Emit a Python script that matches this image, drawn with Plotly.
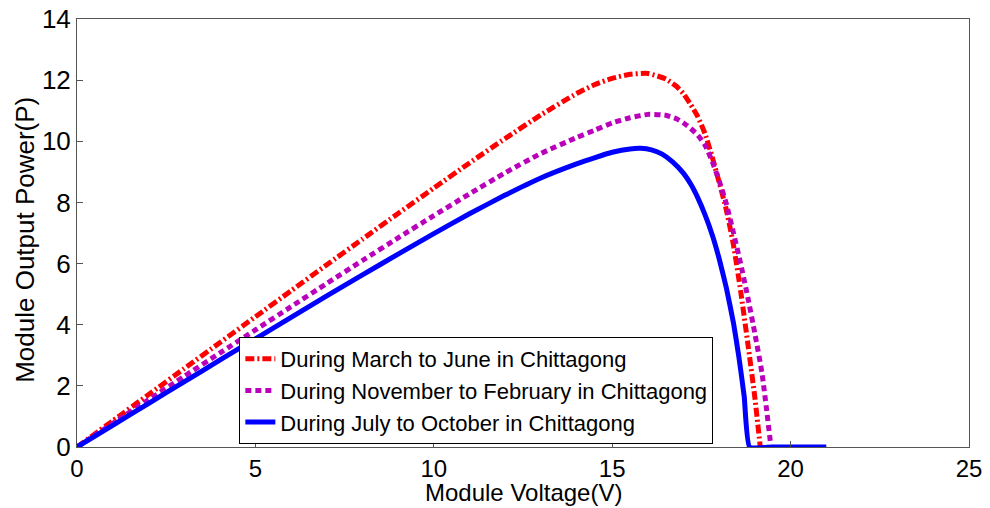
import plotly.graph_objects as go

# Red: During March to June
v_red = [0, 1, 2, 3, 4, 5, 6, 7, 8, 9, 10, 11, 12, 13, 14, 14.5, 15, 15.5, 16, 16.5,
         16.8, 17, 17.2, 17.4, 17.6, 17.8, 18.0, 18.2, 18.4, 18.6, 18.8, 19.0, 19.15]
p_red = [0, 0.855, 1.71, 2.56, 3.41, 4.26, 5.11, 5.96, 6.80, 7.64, 8.47, 9.29, 10.09, 10.86,
         11.56, 11.85, 12.06, 12.19, 12.22, 12.04, 11.8, 11.55, 11.2, 10.8, 10.25, 9.5,
         8.65, 7.75, 6.6, 5.1, 3.4, 1.6, 0]

# Magenta: During November to February
v_mag = [0, 1, 2, 3, 4, 5, 6, 7, 8, 9, 10, 11, 12, 13, 14, 14.5, 15, 15.5, 16, 16.5,
         16.8, 17, 17.2, 17.4, 17.6, 17.8, 18.0, 18.2, 18.4, 18.6, 18.8, 19.0, 19.2, 19.45]
p_mag = [0, 0.77, 1.54, 2.31, 3.07, 3.83, 4.59, 5.35, 6.10, 6.84, 7.57, 8.28, 8.97, 9.60,
         10.12, 10.36, 10.60, 10.77, 10.88, 10.85, 10.74, 10.6, 10.42, 10.2, 9.88, 9.35,
         8.7, 7.95, 7.0, 6.0, 4.9, 3.7, 2.4, 0]

# Blue: During July to October
v_blue = [0, 1, 2, 3, 4, 5, 6, 7, 8, 9, 10, 11, 12, 13, 14, 14.5, 15, 15.5, 15.8, 16.1,
          16.4, 16.7, 17.0, 17.2, 17.4, 17.6, 17.8, 18.0, 18.2, 18.4, 18.55, 18.7, 18.85,
          19.5, 21]
p_blue = [0, 0.71, 1.42, 2.13, 2.84, 3.54, 4.24, 4.94, 5.63, 6.31, 6.98, 7.63, 8.24, 8.80,
          9.26, 9.46, 9.64, 9.75, 9.77, 9.72, 9.58, 9.32, 8.95, 8.6, 8.15, 7.6, 6.95, 6.15,
          5.2, 4.05, 2.95, 1.65, 0, 0, 0]

names = ["During March to June in Chittagong",
         "During November to February in Chittagong",
         "During July to October in Chittagong"]

x_title = "Module Voltage(V)"
y_title = "Module Output Power(P)"

x_ticks = [0, 5, 10, 15, 20, 25]
y_ticks = [0, 2, 4, 6, 8, 10, 12, 14]

FONT = "Arial, Liberation Sans, sans-serif"

fig = go.Figure()
fig.add_trace(go.Scatter(x=v_red, y=p_red, mode="lines", name=names[0],
                         line=dict(color="#FF0000", width=5, dash="9px,3px,2px,3px",
                                   shape="spline", smoothing=0.5)))
fig.add_trace(go.Scatter(x=v_mag, y=p_mag, mode="lines", name=names[1],
                         line=dict(color="#BB00BB", width=5, dash="6px,4px",
                                   shape="spline", smoothing=0.5)))
fig.add_trace(go.Scatter(x=v_blue, y=p_blue, mode="lines", name=names[2],
                         line=dict(color="#0000FF", width=5,
                                   shape="spline", smoothing=0.4)))

fig.update_layout(
    width=990, height=508,
    margin=dict(l=77, r=21, t=19, b=61, autoexpand=False),
    paper_bgcolor="white", plot_bgcolor="white",
    font=dict(family=FONT, color="black"),
    legend=dict(x=0.182, y=0.007, xanchor="left", yanchor="bottom",
                bgcolor="white", bordercolor="black", borderwidth=1,
                font=dict(size=22, family=FONT), itemwidth=30,
                tracegroupgap=0),
    showlegend=True,
    annotations=[
        dict(text=x_title, xref="paper", yref="paper", x=0.5, y=-0.1402,
             xanchor="center", yanchor="bottom", showarrow=False, borderpad=0,
             font=dict(size=24, family=FONT, color="black")),
        dict(text=y_title, xref="paper", yref="paper", x=-0.0583, y=0.484,
             xanchor="center", yanchor="middle", showarrow=False, textangle=-90,
             font=dict(size=26, family=FONT, color="black")),
    ],
)
fig.update_xaxes(range=[0, 25], tickvals=x_ticks, ticktext=[str(t) for t in x_ticks],
                 showgrid=False, zeroline=False, showline=True, linecolor="#555555",
                 linewidth=1, mirror=True, ticks="inside", ticklen=6, tickcolor="#555555",
                 tickfont=dict(size=24, family=FONT), automargin=False)
fig.update_yaxes(range=[0, 14], tickvals=y_ticks, ticktext=[str(t) for t in y_ticks],
                 showgrid=False, zeroline=False, showline=True, linecolor="#555555",
                 linewidth=1, mirror=True, ticks="inside", ticklen=6, tickcolor="#555555",
                 tickfont=dict(size=26, family=FONT), automargin=False)

fig.write_html("out.html")
